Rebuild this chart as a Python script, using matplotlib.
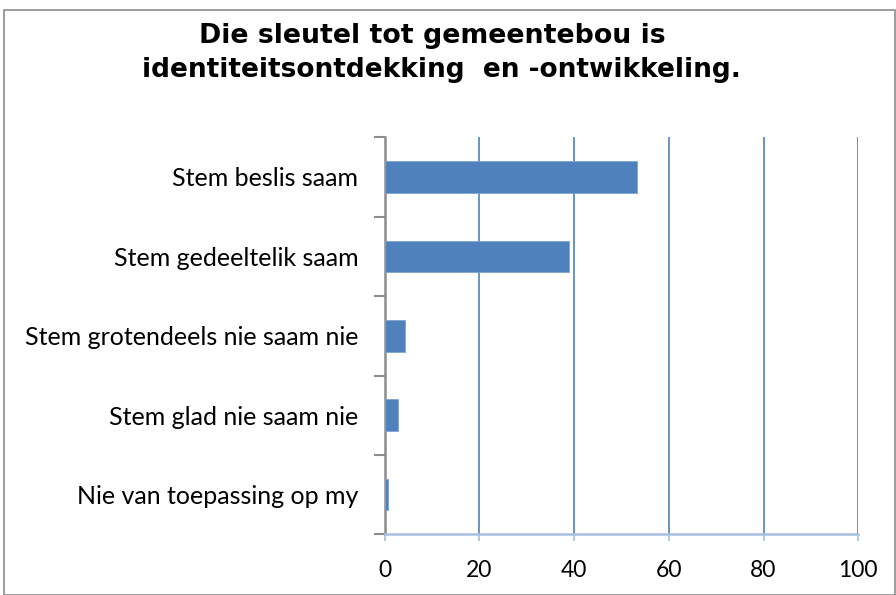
import matplotlib
matplotlib.use("Agg")
import matplotlib.pyplot as plt
from matplotlib.patches import Rectangle
import numpy as np

categories = ["Stem beslis saam", "Stem gedeeltelik saam", "Stem grotendeels nie saam nie",
              "Stem glad nie saam nie", "Nie van toepassing op my"]
values = [53.3, 38.9, 4.2, 2.8, 0.6]
xticks = [0, 20, 40, 60, 80, 100]
title_lines = ["Die sleutel tot gemeentebou is", "identiteitsontdekking  en -ontwikkeling."]

W, H = 896, 595
fig = plt.figure(figsize=(W / 100, H / 100), dpi=100)
fig.patch.set_facecolor("white")
# outer border
fig.add_artist(Rectangle((4 / W, 0.0), 890.5 / W, (H - 10) / H, transform=fig.transFigure,
                         fill=False, edgecolor="#8c8c8c", linewidth=1.2))

ax = fig.add_axes([384.7 / W, 60.7 / H, 473.5 / W, 397 / H])
y = np.arange(len(categories))
ax.barh(y, values, height=0.4, color="#4F81BD", edgecolor="#7fa3d3", linewidth=0.6, zorder=3)
ax.set_xlim(0, 100)
ax.set_ylim(len(categories) - 0.5, -0.5)

ax.set_xticks(xticks)
ax.set_xticklabels([str(t) for t in xticks])
ax.xaxis.grid(True, color="#4F81BD", linewidth=1.2, zorder=1)
ax.set_axisbelow(True)

ax.set_yticks(y)
ax.set_yticklabels(categories)
ax.set_yticks(np.arange(-0.5, len(categories), 1.0), minor=True)
ax.tick_params(axis="y", which="major", length=0, pad=19, labelsize=18)
ax.tick_params(axis="y", which="minor", length=8, width=1.5, color="#8c8c8c")
ax.tick_params(axis="x", which="major", length=5, width=1.2, color="#a8c0e0", pad=13.5, labelsize=16.5)

for lab in ax.get_yticklabels() + ax.get_xticklabels():
    lab.set_fontfamily("Lato")

for s in ["top", "right"]:
    ax.spines[s].set_visible(False)
ax.spines["left"].set_color("#8c8c8c")
ax.spines["left"].set_linewidth(1.8)
ax.spines["bottom"].set_color("#a8c0e0")
ax.spines["bottom"].set_linewidth(1.8)

fig.text(432 / W, 1 - 43 / H, title_lines[0], ha="center", va="baseline", fontsize=19.3,
         fontweight="bold", family="DejaVu Sans")
fig.text(441 / W, 1 - 77 / H, title_lines[1], ha="center", va="baseline", fontsize=19.0,
         fontweight="bold", family="DejaVu Sans")

fig.savefig("out.png", dpi=100)
